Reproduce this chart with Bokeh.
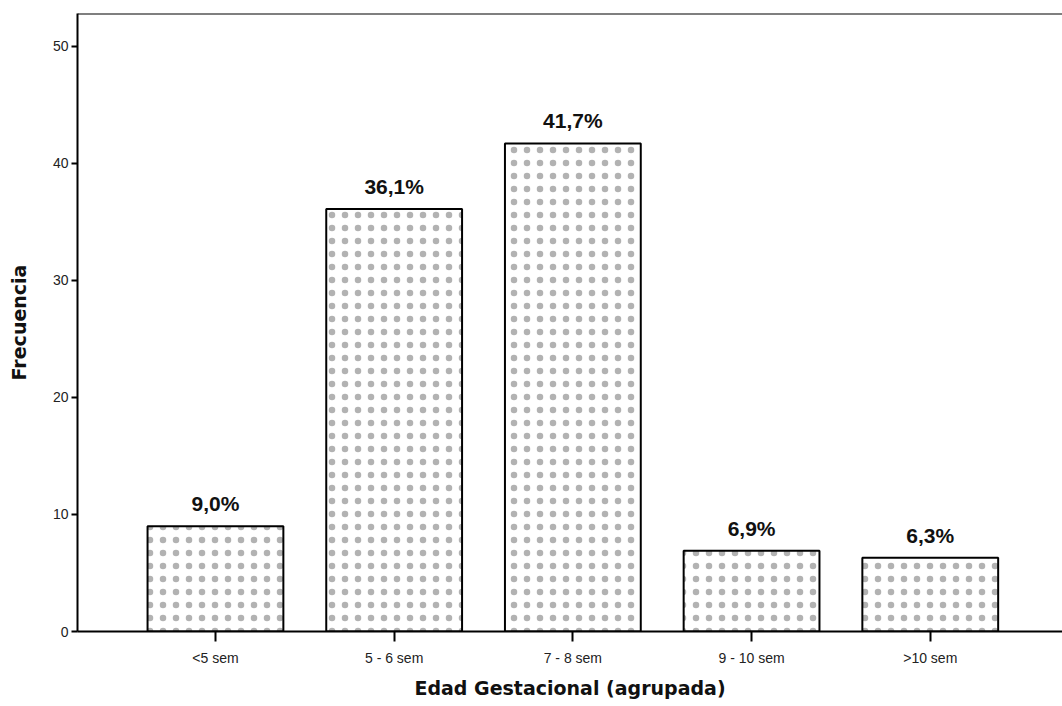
from bokeh.plotting import figure
from bokeh.models import ColumnDataSource, Range1d, Span, FixedTicker, LabelSet
from bokeh.core.properties import value
from bokeh.embed import file_html
from bokeh.resources import INLINE

categories = ["<5 sem", "5 - 6 sem", "7 - 8 sem", "9 - 10 sem", ">10 sem"]
percentages = [9.0, 36.1, 41.7, 6.9, 6.3]
pct_labels = ["9,0%", "36,1%", "41,7%", "6,9%", "6,3%"]
y_ticks = [0, 10, 20, 30, 40, 50]

xs = list(range(len(categories)))
src = ColumnDataSource(dict(x=xs, top=percentages, lab=pct_labels))

p = figure(width=1062, height=706, output_backend="svg", toolbar_location=None,
           x_range=Range1d(-0.772, 4.74), y_range=Range1d(0, 52.8),
           min_border_left=77, min_border_top=13, min_border_right=0, min_border_bottom=75)
p.outline_line_color = None
p.xgrid.visible = False
p.ygrid.visible = False
p.background_fill_color = "white"
p.border_fill_color = "white"

p.vbar(x="x", top="top", width=0.76, bottom=0, source=src,
       fill_color="white", line_color="black", line_width=2,
       hatch_pattern="dot", hatch_color="#555555", hatch_scale=13, hatch_weight=0.3, hatch_alpha=0.45)

labels = LabelSet(x="x", y="top", text="lab", source=src, text_align="center",
                  text_baseline="bottom", y_offset=11, text_font=value("Liberation Sans"),
                  text_font_style="bold", text_font_size="21px", text_color="#111111")
p.add_layout(labels)

p.add_layout(Span(location=52.8, dimension="width", line_color="black", line_width=2))

p.xaxis.ticker = FixedTicker(ticks=xs)
p.xaxis.major_label_overrides = {i: c for i, c in enumerate(categories)}
p.xaxis.axis_label = "Edad Gestacional (agrupada)"
p.yaxis.axis_label = "Frecuencia"
p.yaxis.ticker = FixedTicker(ticks=y_ticks)

for ax in (p.xaxis[0], p.yaxis[0]):
    ax.axis_line_color = "black"
    ax.axis_line_width = 2
    ax.major_tick_line_color = "black"
    ax.major_tick_line_width = 2
    ax.major_tick_in = 0
    ax.minor_tick_line_color = None
    ax.major_label_text_font = "Liberation Sans"
    ax.major_label_text_color = "#222222"
    ax.axis_label_text_font = "DejaVu Sans"
    ax.axis_label_text_font_style = "bold"
    ax.axis_label_text_color = "#111111"

p.xaxis.major_tick_out = 10
p.xaxis.major_label_text_font_size = "14px"
p.xaxis.major_label_standoff = 8
p.xaxis.axis_label_text_font_size = "19px"
p.xaxis.axis_label_standoff = 8
p.yaxis.major_tick_out = 6
p.yaxis.major_label_text_font_size = "14px"
p.yaxis.major_label_standoff = 3
p.yaxis.axis_label_text_font_size = "19px"
p.yaxis.axis_label_standoff = 20

open("out.html", "w").write(file_html(p, INLINE))
